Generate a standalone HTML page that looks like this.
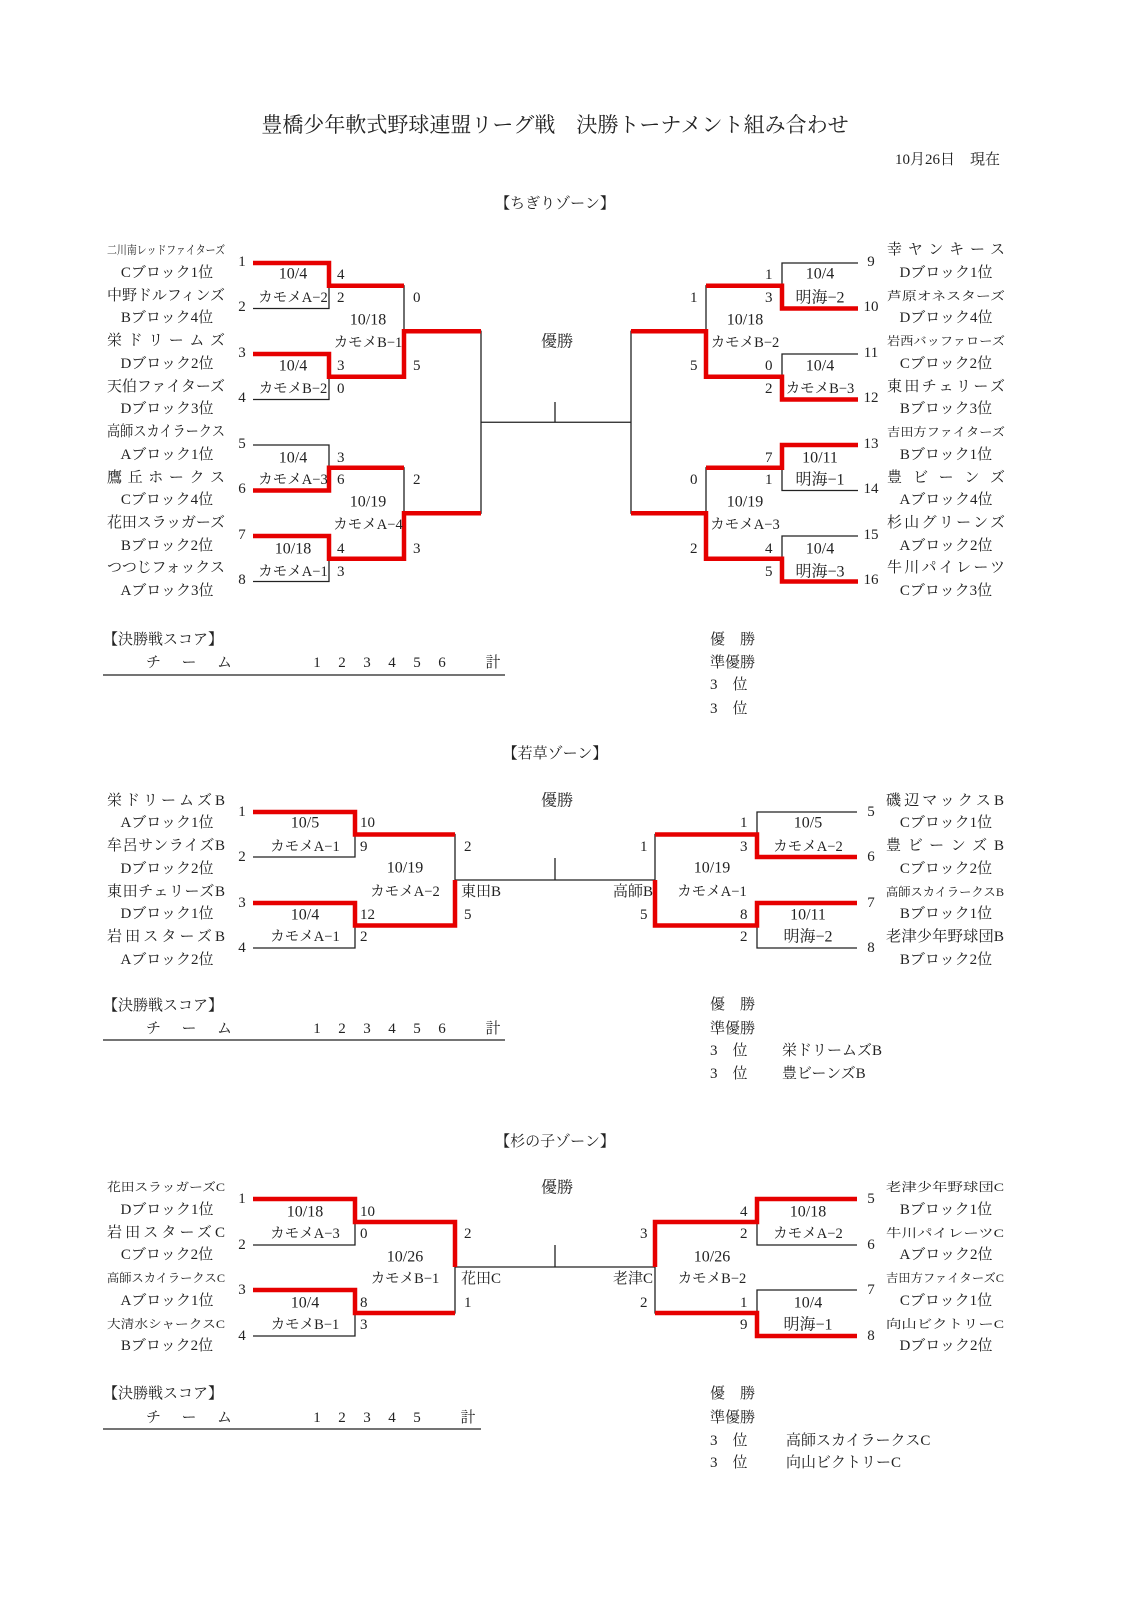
<!DOCTYPE html>
<html><head><meta charset="utf-8"><style>
html,body{margin:0;padding:0;background:#fff}
svg{display:block}
text{font-family:"Liberation Serif","Noto Serif CJK JP","Noto Serif CJK SC",serif;fill:#222;dominant-baseline:central}
.n{font-size:15px}
.s{font-size:12px}
.b{font-size:15px}
.d{font-size:16px}
.v{font-size:14.5px}
.k{fill:none;stroke:#222;stroke-width:1.3}
.r{fill:none;stroke:#e60000;stroke-width:4.5;stroke-linejoin:miter}
</style></head><body>
<svg width="1131" height="1602" viewBox="0 0 1131 1602" xmlns="http://www.w3.org/2000/svg">
<text x="555" y="125" font-size="21" text-anchor="middle">豊橋少年軟式野球連盟リーグ戦　決勝トーナメント組み合わせ</text>
<text x="1000" y="160" font-size="15" text-anchor="end">10月26日　現在</text>

<!-- ===== CHIGIRI ===== -->
<text x="555" y="204" font-size="15" text-anchor="middle">【ちぎりゾーン】</text>
<text x="557" y="342" font-size="16" text-anchor="middle">優勝</text>
<path class="k" d="M253 263H329V308.5H253M253 354H329V399.5H253M253 445H329V490.5H253M253 536H329V581.5H253M329 285.75H404V376.75H329M329 467.75H404V558.75H329M404 331.25H481V513.25H404M481 422.25H631M555 402V422.25"/>
<path class="k" d="M858 263H782V308.5H858M858 354H782V399.5H858M858 445H782V490.5H858M858 536H782V581.5H858M782 285.75H706V376.75H782M782 467.75H706V558.75H782M706 331.25H631V513.25H706"/>
<path class="r" d="M253 263H329V285.75H404"/>
<path class="r" d="M253 354H329V376.75H404V331.25H481"/>
<path class="r" d="M253 490.5H329V467.75H404"/>
<path class="r" d="M253 536H329V558.75H404V513.25H481"/>
<path class="r" d="M858 308.5H782V285.75H706"/>
<path class="r" d="M858 399.5H782V376.75H706V331.25H631"/>
<path class="r" d="M858 445H782V467.75H706"/>
<path class="r" d="M858 581.5H782V558.75H706V513.25H631"/>
<text class="s" x="107" y="250" textLength="118" lengthAdjust="spacingAndGlyphs">二川南レッドファイターズ</text>
<text class="b" x="167" y="273" text-anchor="middle">Cブロック1位</text>
<text class="n" x="107" y="296" textLength="118" lengthAdjust="spacing">中野ドルフィンズ</text>
<text class="b" x="167" y="318" text-anchor="middle">Bブロック4位</text>
<text class="n" x="107" y="341" textLength="118" lengthAdjust="spacing">栄ドリームズ</text>
<text class="b" x="167" y="364" text-anchor="middle">Dブロック2位</text>
<text class="n" x="107" y="387" textLength="118" lengthAdjust="spacing">天伯ファイターズ</text>
<text class="b" x="167" y="409" text-anchor="middle">Dブロック3位</text>
<text class="n" x="107" y="432" textLength="118" lengthAdjust="spacingAndGlyphs" font-size="13">高師スカイラークス</text>
<text class="b" x="167" y="455" text-anchor="middle">Aブロック1位</text>
<text class="n" x="107" y="478" textLength="118" lengthAdjust="spacing">鷹丘ホークス</text>
<text class="b" x="167" y="500" text-anchor="middle">Cブロック4位</text>
<text class="n" x="107" y="523" textLength="118" lengthAdjust="spacing">花田スラッガーズ</text>
<text class="b" x="167" y="546" text-anchor="middle">Bブロック2位</text>
<text class="n" x="107" y="568" textLength="118" lengthAdjust="spacing">つつじフォックス</text>
<text class="b" x="167" y="591" text-anchor="middle">Aブロック3位</text>
<text class="n" x="887" y="250" textLength="118" lengthAdjust="spacing">幸ヤンキース</text>
<text class="b" x="946" y="273" text-anchor="middle">Dブロック1位</text>
<text class="s" x="887" y="296" textLength="118" lengthAdjust="spacingAndGlyphs" font-size="13">芦原オネスターズ</text>
<text class="b" x="946" y="318" text-anchor="middle">Dブロック4位</text>
<text class="s" x="887" y="341" textLength="118" lengthAdjust="spacingAndGlyphs" font-size="13">岩西バッファローズ</text>
<text class="b" x="946" y="364" text-anchor="middle">Cブロック2位</text>
<text class="n" x="887" y="387" textLength="118" lengthAdjust="spacing">東田チェリーズ</text>
<text class="b" x="946" y="409" text-anchor="middle">Bブロック3位</text>
<text class="s" x="887" y="432" textLength="118" lengthAdjust="spacingAndGlyphs" font-size="13">吉田方ファイターズ</text>
<text class="b" x="946" y="455" text-anchor="middle">Bブロック1位</text>
<text class="n" x="887" y="478" textLength="118" lengthAdjust="spacing">豊ビーンズ</text>
<text class="b" x="946" y="500" text-anchor="middle">Aブロック4位</text>
<text class="n" x="887" y="523" textLength="118" lengthAdjust="spacing">杉山グリーンズ</text>
<text class="b" x="946" y="546" text-anchor="middle">Aブロック2位</text>
<text class="n" x="887" y="568" textLength="118" lengthAdjust="spacing">牛川パイレーツ</text>
<text class="b" x="946" y="591" text-anchor="middle">Cブロック3位</text>
<g font-size="15" text-anchor="middle">
<text x="242" y="262">1</text><text x="242" y="307">2</text><text x="242" y="353">3</text><text x="242" y="398">4</text>
<text x="242" y="444">5</text><text x="242" y="489">6</text><text x="242" y="535">7</text><text x="242" y="580">8</text>
<text x="871" y="262">9</text><text x="871" y="307">10</text><text x="871" y="353">11</text><text x="871" y="398">12</text>
<text x="871" y="444">13</text><text x="871" y="489">14</text><text x="871" y="535">15</text><text x="871" y="580">16</text>
</g>
<g font-size="15">
<text x="337" y="275">4</text><text x="337" y="298">2</text>
<text x="337" y="366">3</text><text x="337" y="389">0</text>
<text x="337" y="458">3</text><text x="337" y="480">6</text>
<text x="337" y="549">4</text><text x="337" y="572">3</text>
<text x="413" y="298">0</text><text x="413" y="366">5</text>
<text x="413" y="480">2</text><text x="413" y="549">3</text>
<text x="765" y="275">1</text><text x="765" y="298">3</text>
<text x="765" y="366">0</text><text x="765" y="389">2</text>
<text x="765" y="458">7</text><text x="765" y="480">1</text>
<text x="765" y="549">4</text><text x="765" y="572">5</text>
<text x="690" y="298">1</text><text x="690" y="366">5</text>
<text x="690" y="480">0</text><text x="690" y="549">2</text>
</g>
<g text-anchor="middle">
<text class="d" x="293" y="274">10/4</text><text class="v" x="293" y="298">カモメA−2</text>
<text class="d" x="293" y="366">10/4</text><text class="v" x="293" y="389">カモメB−2</text>
<text class="d" x="293" y="458">10/4</text><text class="v" x="293" y="480">カモメA−3</text>
<text class="d" x="293" y="549">10/18</text><text class="v" x="293" y="572">カモメA−1</text>
<text class="d" x="368" y="320">10/18</text><text class="v" x="368" y="343">カモメB−1</text>
<text class="d" x="368" y="502">10/19</text><text class="v" x="368" y="525">カモメA−4</text>
<text class="d" x="820" y="274">10/4</text><text class="d" x="820" y="298">明海−2</text>
<text class="d" x="820" y="366">10/4</text><text class="v" x="820" y="389">カモメB−3</text>
<text class="d" x="820" y="458">10/11</text><text class="d" x="820" y="480">明海−1</text>
<text class="d" x="820" y="549">10/4</text><text class="d" x="820" y="572">明海−3</text>
<text class="d" x="745" y="320">10/18</text><text class="v" x="745" y="343">カモメB−2</text>
<text class="d" x="745" y="502">10/19</text><text class="v" x="745" y="525">カモメA−3</text>
</g>
<text x="103" y="640" font-size="15">【決勝戦スコア】</text>
<text x="146" y="663" font-size="15" textLength="86" lengthAdjust="spacing">チーム</text>
<g font-size="15" text-anchor="middle"><text x="317" y="663">1</text><text x="342" y="663">2</text><text x="367" y="663">3</text><text x="392" y="663">4</text><text x="417" y="663">5</text><text x="442" y="663">6</text><text x="493" y="663">計</text></g>
<path class="k" d="M103 675H505"/>
<g font-size="15"><text x="710" y="640">優　勝</text><text x="710" y="663">準優勝</text><text x="710" y="685">3　位</text><text x="710" y="709">3　位</text></g>

<!-- ===== WAKAKUSA ===== -->
<text x="555" y="754" font-size="15" text-anchor="middle">【若草ゾーン】</text>
<text x="557" y="801" font-size="16" text-anchor="middle">優勝</text>
<path class="k" d="M253 812H355V857H253M253 903H355V948H253M355 834.5H455V925.5H355M455 880H655M555 858V880M857 812H757V857H857M857 903H757V948H857M757 834.5H655V925.5H757"/>
<path class="r" d="M253 812H355V834.5H455"/>
<path class="r" d="M253 903H355V925.5H455V880"/>
<path class="r" d="M857 857H757V834.5H655"/>
<path class="r" d="M857 903H757V925.5H655V880"/>
<text class="n" x="107" y="801" textLength="118" lengthAdjust="spacing">栄ドリームズB</text>
<text class="b" x="167" y="823" text-anchor="middle">Aブロック1位</text>
<text class="n" x="107" y="846" textLength="118" lengthAdjust="spacing">牟呂サンライズB</text>
<text class="b" x="167" y="869" text-anchor="middle">Dブロック2位</text>
<text class="n" x="107" y="892" textLength="118" lengthAdjust="spacing">東田チェリーズB</text>
<text class="b" x="167" y="914" text-anchor="middle">Dブロック1位</text>
<text class="n" x="107" y="937" textLength="118" lengthAdjust="spacing">岩田スターズB</text>
<text class="b" x="167" y="960" text-anchor="middle">Aブロック2位</text>
<text class="n" x="886" y="801" textLength="118" lengthAdjust="spacing">磯辺マックスB</text>
<text class="b" x="946" y="823" text-anchor="middle">Cブロック1位</text>
<text class="n" x="886" y="846" textLength="118" lengthAdjust="spacing">豊ビーンズB</text>
<text class="b" x="946" y="869" text-anchor="middle">Cブロック2位</text>
<text class="s" x="886" y="892" textLength="118" lengthAdjust="spacingAndGlyphs">高師スカイラークスB</text>
<text class="b" x="946" y="914" text-anchor="middle">Bブロック1位</text>
<text class="n" x="886" y="937" textLength="118" lengthAdjust="spacingAndGlyphs">老津少年野球団B</text>
<text class="b" x="946" y="960" text-anchor="middle">Bブロック2位</text>
<g font-size="15" text-anchor="middle">
<text x="242" y="812">1</text><text x="242" y="857">2</text><text x="242" y="903">3</text><text x="242" y="948">4</text>
<text x="871" y="812">5</text><text x="871" y="857">6</text><text x="871" y="903">7</text><text x="871" y="948">8</text>
</g>
<g font-size="15">
<text x="360" y="823">10</text><text x="360" y="847">9</text><text x="360" y="915">12</text><text x="360" y="937">2</text>
<text x="464" y="847">2</text><text x="461" y="892">東田B</text><text x="464" y="915">5</text>
<text x="740" y="823">1</text><text x="740" y="847">3</text><text x="740" y="915">8</text><text x="740" y="937">2</text>
<text x="640" y="847">1</text><text x="653" y="892" text-anchor="end">高師B</text><text x="640" y="915">5</text>
</g>
<g text-anchor="middle">
<text class="d" x="305" y="823">10/5</text><text class="v" x="305" y="847">カモメA−1</text>
<text class="d" x="305" y="915">10/4</text><text class="v" x="305" y="937">カモメA−1</text>
<text class="d" x="405" y="868">10/19</text><text class="v" x="405" y="892">カモメA−2</text>
<text class="d" x="808" y="823">10/5</text><text class="v" x="808" y="847">カモメA−2</text>
<text class="d" x="808" y="915">10/11</text><text class="d" x="808" y="937">明海−2</text>
<text class="d" x="712" y="868">10/19</text><text class="v" x="712" y="892">カモメA−1</text>
</g>
<text x="103" y="1006" font-size="15">【決勝戦スコア】</text>
<text x="146" y="1029" font-size="15" textLength="86" lengthAdjust="spacing">チーム</text>
<g font-size="15" text-anchor="middle"><text x="317" y="1029">1</text><text x="342" y="1029">2</text><text x="367" y="1029">3</text><text x="392" y="1029">4</text><text x="417" y="1029">5</text><text x="442" y="1029">6</text><text x="493" y="1029">計</text></g>
<path class="k" d="M103 1040H505"/>
<g font-size="15"><text x="710" y="1005">優　勝</text><text x="710" y="1029">準優勝</text><text x="710" y="1051">3　位</text><text x="710" y="1074">3　位</text>
<text x="782" y="1051">栄ドリームズB</text><text x="782" y="1074">豊ビーンズB</text></g>

<!-- ===== SUGINOKO ===== -->
<text x="555" y="1142" font-size="15" text-anchor="middle">【杉の子ゾーン】</text>
<text x="557" y="1188" font-size="16" text-anchor="middle">優勝</text>
<path class="k" d="M253 1199H355V1245H253M253 1290H355V1336H253M355 1222H455V1313H355M455 1267H655M555 1245V1267M857 1199H757V1245H857M857 1290H757V1336H857M757 1222H655V1313H757"/>
<path class="r" d="M253 1199H355V1222H455V1267"/>
<path class="r" d="M253 1290H355V1313H455"/>
<path class="r" d="M857 1199H757V1222H655V1267"/>
<path class="r" d="M857 1336H757V1313H655"/>
<text class="s" x="107" y="1187" textLength="118" lengthAdjust="spacingAndGlyphs" font-size="13">花田スラッガーズC</text>
<text class="b" x="167" y="1210" text-anchor="middle">Dブロック1位</text>
<text class="n" x="107" y="1233" textLength="118" lengthAdjust="spacing">岩田スターズC</text>
<text class="b" x="167" y="1255" text-anchor="middle">Cブロック2位</text>
<text class="s" x="107" y="1278" textLength="118" lengthAdjust="spacingAndGlyphs">高師スカイラークスC</text>
<text class="b" x="167" y="1301" text-anchor="middle">Aブロック1位</text>
<text class="s" x="107" y="1324" textLength="118" lengthAdjust="spacingAndGlyphs" font-size="13">大清水シャークスC</text>
<text class="b" x="167" y="1346" text-anchor="middle">Bブロック2位</text>
<text class="s" x="886" y="1187" textLength="118" lengthAdjust="spacingAndGlyphs" font-size="13">老津少年野球団C</text>
<text class="b" x="946" y="1210" text-anchor="middle">Bブロック1位</text>
<text class="s" x="886" y="1233" textLength="118" lengthAdjust="spacingAndGlyphs" font-size="13">牛川パイレーツC</text>
<text class="b" x="946" y="1255" text-anchor="middle">Aブロック2位</text>
<text class="s" x="886" y="1278" textLength="118" lengthAdjust="spacingAndGlyphs">吉田方ファイターズC</text>
<text class="b" x="946" y="1301" text-anchor="middle">Cブロック1位</text>
<text class="s" x="886" y="1324" textLength="118" lengthAdjust="spacingAndGlyphs" font-size="13">向山ビクトリーC</text>
<text class="b" x="946" y="1346" text-anchor="middle">Dブロック2位</text>
<g font-size="15" text-anchor="middle">
<text x="242" y="1199">1</text><text x="242" y="1245">2</text><text x="242" y="1290">3</text><text x="242" y="1336">4</text>
<text x="871" y="1199">5</text><text x="871" y="1245">6</text><text x="871" y="1290">7</text><text x="871" y="1336">8</text>
</g>
<g font-size="15">
<text x="360" y="1212">10</text><text x="360" y="1234">0</text><text x="360" y="1303">8</text><text x="360" y="1325">3</text>
<text x="464" y="1234">2</text><text x="461" y="1279">花田C</text><text x="464" y="1303">1</text>
<text x="740" y="1212">4</text><text x="740" y="1234">2</text><text x="740" y="1303">1</text><text x="740" y="1325">9</text>
<text x="640" y="1234">3</text><text x="653" y="1279" text-anchor="end">老津C</text><text x="640" y="1303">2</text>
</g>
<g text-anchor="middle">
<text class="d" x="305" y="1212">10/18</text><text class="v" x="305" y="1234">カモメA−3</text>
<text class="d" x="305" y="1303">10/4</text><text class="v" x="305" y="1325">カモメB−1</text>
<text class="d" x="405" y="1257">10/26</text><text class="v" x="405" y="1279">カモメB−1</text>
<text class="d" x="808" y="1212">10/18</text><text class="v" x="808" y="1234">カモメA−2</text>
<text class="d" x="808" y="1303">10/4</text><text class="d" x="808" y="1325">明海−1</text>
<text class="d" x="712" y="1257">10/26</text><text class="v" x="712" y="1279">カモメB−2</text>
</g>
<text x="103" y="1394" font-size="15">【決勝戦スコア】</text>
<text x="146" y="1418" font-size="15" textLength="86" lengthAdjust="spacing">チーム</text>
<g font-size="15" text-anchor="middle"><text x="317" y="1418">1</text><text x="342" y="1418">2</text><text x="367" y="1418">3</text><text x="392" y="1418">4</text><text x="417" y="1418">5</text><text x="468" y="1418">計</text></g>
<path class="k" d="M103 1429H481"/>
<g font-size="15"><text x="710" y="1394">優　勝</text><text x="710" y="1418">準優勝</text><text x="710" y="1441">3　位</text><text x="710" y="1463">3　位</text>
<text x="786" y="1441">高師スカイラークスC</text><text x="786" y="1463">向山ビクトリーC</text></g>
</svg>
</body></html>
